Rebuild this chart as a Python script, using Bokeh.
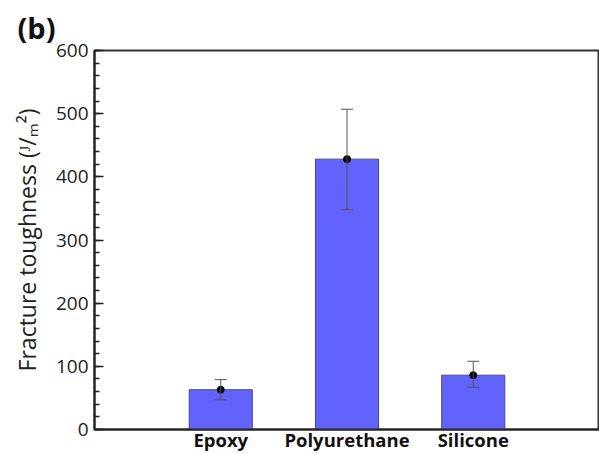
from bokeh.plotting import figure
from bokeh.models import ColumnDataSource, FactorRange, Range1d, Whisker, FixedTicker
from bokeh.embed import file_html
from bokeh.resources import INLINE

materials = ["Epoxy", "Polyurethane", "Silicone"]
toughness = [63, 428, 86]
err_upper = [79, 507, 108]
err_lower = [47, 348, 67]
y_ticks = [0, 100, 200, 300, 400, 500, 600]

src = ColumnDataSource(dict(x=materials, top=toughness, upper=err_upper, lower=err_lower))

p = figure(x_range=FactorRange(*materials, range_padding=0.5, range_padding_units="absolute"),
           y_range=Range1d(0, 600),
           width=599, height=454, output_backend="svg", toolbar_location=None,
           min_border_left=94, min_border_right=0, min_border_top=50, min_border_bottom=20)

p.title.text = "(b)"
p.title.text_font = "Open Sans"
p.title.text_font_size = "29px"
p.title.text_font_style = "bold"
p.title.text_color = "#111111"
p.title.align = "left"
p.title.offset = -77
p.title.standoff = 8

p.vbar(x="x", top="top", width=0.5, source=src, fill_color="#6262FC",
       line_color="#4a4a80", line_width=1)
w = Whisker(base="x", upper="upper", lower="lower", source=src,
            line_color="#555555", line_width=1, level="overlay")
w.upper_head.size = 12
w.lower_head.size = 12
w.upper_head.line_color = "#555555"
w.lower_head.line_color = "#555555"
p.add_layout(w)
p.scatter(x="x", y="top", source=src, size=7, color="black", level="overlay")

p.xgrid.visible = False
p.ygrid.visible = False
p.outline_line_color = "#333333"
p.outline_line_width = 2

ya = p.yaxis[0]
ya.ticker = FixedTicker(ticks=y_ticks, minor_ticks=list(range(0, 601, 20)))
ya.major_tick_in = 9
ya.major_tick_out = 0
ya.minor_tick_in = 5
ya.minor_tick_out = 0
ya.axis_line_width = 2
ya.major_tick_line_width = 1.5
ya.minor_tick_line_width = 1.5
ya.axis_line_color = "#222222"
ya.major_tick_line_color = "#222222"
ya.minor_tick_line_color = "#222222"
ya.major_label_text_font = "Open Sans"
ya.major_label_text_font_size = "19px"
ya.major_label_text_color = "#222222"
ya.major_label_standoff = 6
ya.axis_label = "Fracture toughness (ᴶ/ₘ²)"
ya.axis_label_text_font = "Open Sans"
ya.axis_label_text_font_size = "23px"
ya.axis_label_text_font_style = "normal"
ya.axis_label_text_color = "#222222"
ya.axis_label_standoff = 10

xa = p.xaxis[0]
xa.major_tick_in = 0
xa.major_tick_out = 0
xa.axis_line_width = 2
xa.axis_line_color = "#222222"
xa.major_label_text_font = "Open Sans"
xa.major_label_text_font_size = "18.5px"
xa.major_label_text_font_style = "bold"
xa.major_label_text_color = "#111111"
xa.major_label_standoff = -3
xa.axis_label_standoff = 0

open("out.html", "w").write(file_html(p, INLINE))
